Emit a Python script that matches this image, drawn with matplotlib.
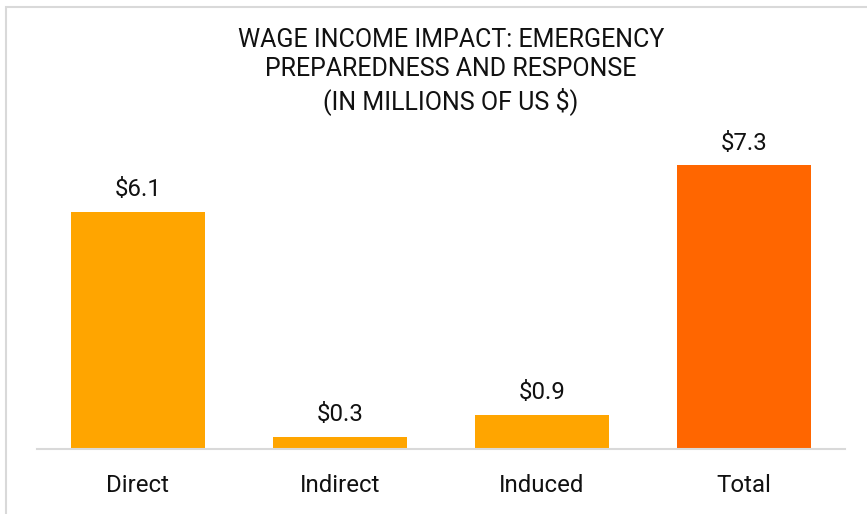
import matplotlib
matplotlib.use("Agg")
import matplotlib.pyplot as plt
from matplotlib.patches import Rectangle

categories = ["Direct", "Indirect", "Induced", "Total"]
values = [6.1, 0.31, 0.875, 7.3]
labels = ["$6.1", "$0.3", "$0.9", "$7.3"]
colors = ["#FFA500", "#FFA500", "#FFA500", "#FF6600"]
title = "WAGE INCOME IMPACT: EMERGENCY\nPREPAREDNESS AND RESPONSE\n(IN MILLIONS OF US $)"

plt.rcParams['font.family'] = ['Roboto', 'DejaVu Sans']

W, H = 867, 514
fig = plt.figure(figsize=(W / 100, H / 100), dpi=100)
fig.patch.set_facecolor("white")

# outer border (left and top visible)
fig.add_artist(Rectangle((5.5 / W, -0.1), 2.0, 1 - 7.5 / H + 0.1,
                         transform=fig.transFigure, fill=False,
                         edgecolor="#D9D9D9", linewidth=1.5))

ax_left, ax_right = 37 / W, 845 / W
ax_bottom, ax_top = 1 - 449 / H, 1 - 138 / H
ax = fig.add_axes([ax_left, ax_bottom, ax_right - ax_left, ax_top - ax_bottom])

x = range(len(categories))
ax.bar(x, values, width=0.663, color=colors, zorder=2)
for xi, v, lab in zip(x, values, labels):
    ax.text(xi, v + 0.27, lab, ha="center", va="bottom", fontsize=17.3, color="#111111")

ax.set_xlim(-0.5, 3.5)
ax.set_ylim(0, 8)
ax.set_xticks(list(x))
ax.set_xticklabels(categories, fontsize=17.3, color="#111111")
ax.tick_params(axis="x", length=0, pad=18)
ax.set_yticks([])
for s in ["top", "right", "left"]:
    ax.spines[s].set_visible(False)
ax.spines["bottom"].set_color("#D9D9D9")
ax.spines["bottom"].set_linewidth(1.5)
ax.spines["bottom"].set_zorder(3)

fig.text(451 / W, 1 - 71.5 / H, title, ha="center", va="center",
         fontsize=18, color="#111111", linespacing=1.25)

fig.savefig("out.png", dpi=100)
